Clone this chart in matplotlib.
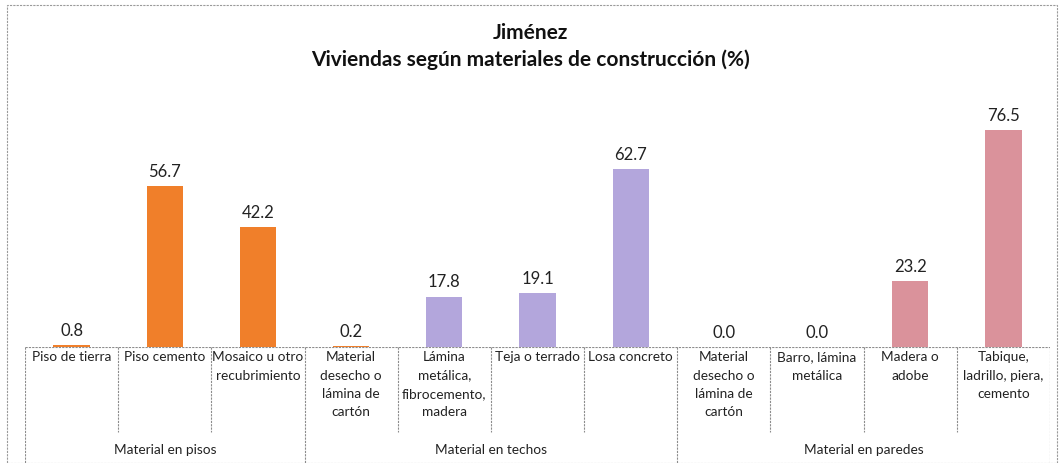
import numpy as np
import matplotlib
matplotlib.use('Agg')
import matplotlib.pyplot as plt
from matplotlib.patches import Rectangle

plt.rcParams['font.family'] = ['Lato', 'DejaVu Sans']

categories = [
    'Piso de tierra', 'Piso cemento', 'Mosaico u otro\nrecubrimiento',
    'Material\ndesecho o\nlámina de\ncartón', 'Lámina\nmetálica,\nfibrocemento,\nmadera',
    'Teja o terrado', 'Losa concreto',
    'Material\ndesecho o\nlámina de\ncartón', 'Barro, lámina\nmetálica',
    'Madera o\nadobe', 'Tabique,\nladrillo, piera,\ncemento',
]
values = [0.8, 56.7, 42.2, 0.2, 17.8, 19.1, 62.7, 0.0, 0.0, 23.2, 76.5]
groups = ['Material en pisos', 'Material en techos', 'Material en paredes']
group_sizes = [3, 4, 4]

orange = '#F07F2A'
purple = '#B3A6DC'
pink = '#DA929B'
bar_colors = [orange, orange, orange, orange, purple, purple, purple,
              orange, orange, pink, pink]

W, H = 1060, 463
fig = plt.figure(figsize=(W / 100, H / 100), dpi=100)

# chart border
fig.patches.append(Rectangle((7 / W, 0), (1057 - 7) / W, (463 - 5) / H,
                             transform=fig.transFigure, fill=False,
                             edgecolor='#9a9a9a', linewidth=0.8, linestyle=(0, (2, 1))))

x0, x1 = 25, 1050
base, top = 347, 92
ax = fig.add_axes([x0 / W, (H - base) / H, (x1 - x0) / W, (base - top) / H])
x = np.arange(len(values))
ax.bar(x, values, width=0.39, color=bar_colors)
for xi, v in zip(x, values):
    ax.text(xi, v + 2.2, f'{v:.1f}', ha='center', va='bottom', fontsize=12, color='#222222')
ax.set_xlim(-0.5, len(values) - 0.5)
ax.set_ylim(0, 90)
ax.axis('off')

# category table under the bars
tab = fig.add_axes([x0 / W, 0, (x1 - x0) / W, (H - base) / H])
tab.set_xlim(-0.5, len(values) - 0.5)
tab.set_ylim(H - base, 0)
tab.axis('off')
line_kw = dict(color='#8c8c8c', linewidth=0.8, linestyle=(0, (2, 1)))
tab.plot([-0.5, len(values) - 0.5], [0, 0], **line_kw)
bounds = np.cumsum([0] + group_sizes) - 0.5
for b in np.arange(-0.5, len(values)):
    bottom = H - base if b in bounds else 85
    tab.plot([b, b], [0, bottom], **line_kw)
for xi, lab in zip(x, categories):
    tab.text(xi, 4, lab, ha='center', va='top', fontsize=9.8,
             color='#222222', linespacing=1.65)
for g, lo, hi in zip(groups, bounds[:-1], bounds[1:]):
    tab.text((lo + hi) / 2, 103, g, ha='center', va='center', fontsize=9.8, color='#222222')

fig.text(0.5, (H - 33) / H, 'Jiménez', ha='center', va='center',
         fontsize=15, fontweight='bold', color='#111111')
fig.text(0.5, (H - 60) / H, 'Viviendas según materiales de construcción (%)',
         ha='center', va='center', fontsize=15, fontweight='bold', color='#111111')

fig.savefig('out.png', dpi=100)
